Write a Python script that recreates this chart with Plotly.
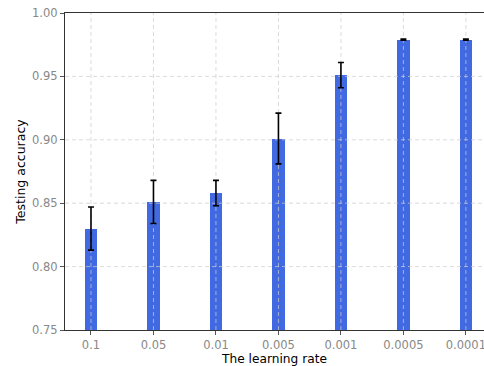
import plotly.graph_objects as go

categories = ["0.1", "0.05", "0.01", "0.005", "0.001", "0.0005", "0.0001"]
accuracy = [0.830, 0.851, 0.858, 0.901, 0.951, 0.979, 0.979]
errors = [0.017, 0.017, 0.010, 0.020, 0.010, 0.0005, 0.0005]
y_ticks = [0.75, 0.80, 0.85, 0.90, 0.95, 1.00]

font = "DejaVu Sans"
grid_color = "rgba(205,205,205,0.9)"
x_pos = list(range(len(categories)))
x_range = [-0.416, 6.29]

fig = go.Figure()
fig.add_trace(go.Bar(
    x=x_pos, y=accuracy, base=0, width=0.2,
    marker=dict(color="#4169E1", line=dict(width=0)),
    hoverinfo="skip",
))

# dashed grid lines drawn above bars, below error bars (as in the reference)
for i in x_pos:
    fig.add_trace(go.Scatter(x=[i, i], y=[y_ticks[0], y_ticks[-1]], mode="lines",
                             line=dict(color=grid_color, width=0.8, dash="4px,3px"),
                             hoverinfo="skip"))
for t in y_ticks[1:-1]:
    fig.add_trace(go.Scatter(x=x_range, y=[t, t], mode="lines",
                             line=dict(color=grid_color, width=0.8, dash="4px,3px"),
                             hoverinfo="skip"))

fig.add_trace(go.Scatter(
    x=x_pos, y=accuracy, mode="markers",
    marker=dict(size=0.1, opacity=0),
    error_y=dict(type="data", array=errors, visible=True, color="black",
                 thickness=1.6, width=3),
    hoverinfo="skip",
))

fig.update_layout(
    width=484, height=366,
    margin=dict(l=65, r=0, t=13, b=36),
    paper_bgcolor="white", plot_bgcolor="white",
    showlegend=False,
    font=dict(family=font, size=11.5, color="black"),
    bargap=0,
)
fig.update_xaxes(
    range=x_range, automargin=False, ticklabeloverflow="allow",
    tickmode="array", tickvals=x_pos, ticktext=categories,
    showgrid=False, zeroline=False,
    showline=True, linecolor="#333333", linewidth=1.2, mirror=True,
    ticks="outside", ticklen=4, tickcolor="#555555",
    tickfont=dict(color="#888888", size=11.5),
    title=dict(text="The learning rate", font=dict(size=12.2, color="black"), standoff=5),
)
fig.update_yaxes(
    range=[y_ticks[0], y_ticks[-1]], automargin=False,
    tickmode="array", tickvals=y_ticks, ticktext=[f"{v:.2f}" for v in y_ticks],
    showgrid=False, zeroline=False,
    showline=True, linecolor="#333333", linewidth=1.2, mirror=False,
    ticks="outside", ticklen=4, tickcolor="#555555",
    tickfont=dict(color="#888888", size=11.5),
    title=dict(text="Testing accuracy", font=dict(size=12.5, color="black"), standoff=3),
)

fig.write_html("out.html", config={"displayModeBar": False},
               post_script="document.body.style.margin='0';document.body.style.overflow='hidden';")
